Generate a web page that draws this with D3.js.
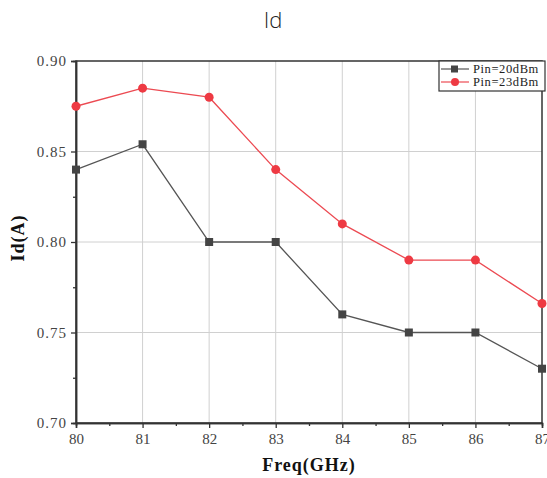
<!DOCTYPE html>
<html>
<head>
<meta charset="utf-8">
<script src="https://cdn.jsdelivr.net/npm/d3@7"></script>
<style>
  body { margin: 0; background: #fff; }
  svg { display: block; }
</style>
</head>
<body>
<svg id="chart" width="547" height="478"></svg>
<script>
const freqs = [80, 81, 82, 83, 84, 85, 86, 87];
const pin20 = [0.840, 0.854, 0.800, 0.800, 0.760, 0.750, 0.750, 0.730];
const pin23 = [0.875, 0.885, 0.880, 0.840, 0.810, 0.790, 0.790, 0.766];
const seriesNames = ["Pin=20dBm", "Pin=23dBm"];
const yTicks = [0.70, 0.75, 0.80, 0.85, 0.90];

const margin = { top: 61, right: 5, bottom: 55, left: 76 };
const width = 547 - margin.left - margin.right;
const height = 478 - margin.top - margin.bottom;

const svg = d3.select("#chart");
const serif = "'Liberation Serif', 'DejaVu Serif', serif";

svg.append("text")
  .attr("x", 273)
  .attr("y", 28)
  .attr("text-anchor", "middle")
  .style("font-family", "'Open Sans', 'DejaVu Sans', sans-serif")
  .style("font-weight", 300)
  .style("font-size", "22px")
  .attr("fill", "#222")
  .text("Id");

const g = svg.append("g").attr("transform", `translate(${margin.left},${margin.top})`);

const x = d3.scaleLinear().domain([80, 87]).range([0, width]);
const y = d3.scaleLinear().domain([0.70, 0.90]).range([height, 0]);

// grid
g.append("g")
  .selectAll("line")
  .data(freqs.slice(1, -1))
  .join("line")
  .attr("x1", d => x(d)).attr("x2", d => x(d))
  .attr("y1", 0).attr("y2", height)
  .attr("stroke", "#d0d0d0").attr("stroke-width", 1);
g.append("g")
  .selectAll("line")
  .data(yTicks.slice(1, -1))
  .join("line")
  .attr("x1", 0).attr("x2", width)
  .attr("y1", d => y(d)).attr("y2", d => y(d))
  .attr("stroke", "#d0d0d0").attr("stroke-width", 1);

// frame
g.append("rect")
  .attr("width", width).attr("height", height)
  .attr("fill", "none").attr("stroke", "#333").attr("stroke-width", 1.5);

// axes
const xAxis = g.append("g")
  .attr("transform", `translate(0,${height})`)
  .call(d3.axisBottom(x).tickValues(freqs).tickFormat(d3.format("d")).tickSize(5).tickPadding(5));
const xMinor = g.append("g")
  .attr("transform", `translate(0,${height})`)
  .call(d3.axisBottom(x).tickValues(freqs.slice(0, -1).map(d => d + 0.5)).tickFormat("").tickSize(3));
const yAxis = g.append("g")
  .call(d3.axisLeft(y).tickValues(yTicks).tickFormat(d3.format(".2f")).tickSize(5).tickPadding(4));
const yMinor = g.append("g")
  .call(d3.axisLeft(y).tickValues(yTicks.slice(0, -1).map(d => d + 0.025)).tickFormat("").tickSize(3));

[xAxis, xMinor, yAxis, yMinor].forEach(a => {
  a.select(".domain").attr("stroke", "#333").attr("stroke-width", 1.5);
  a.selectAll(".tick line").attr("stroke", "#333").attr("stroke-width", 1.3);
  a.selectAll("text")
    .style("font-family", serif)
    .style("font-size", "15px")
    .attr("fill", "#444");
});
yAxis.selectAll("text").style("letter-spacing", "1px");

// axis titles
svg.append("text")
  .attr("x", margin.left + width / 2)
  .attr("y", 471)
  .attr("text-anchor", "middle")
  .style("font-family", serif)
  .style("font-weight", "bold")
  .style("font-size", "18px")
  .style("letter-spacing", "1px")
  .attr("fill", "#111")
  .text("Freq(GHz)");
svg.append("text")
  .attr("transform", `translate(24,${margin.top + height / 2 - 4}) rotate(-90)`)
  .attr("text-anchor", "middle")
  .style("font-family", serif)
  .style("font-weight", "bold")
  .style("font-size", "18px")
  .style("letter-spacing", "1px")
  .attr("fill", "#111")
  .text("Id(A)");

// series
const line = d3.line().x((d, i) => x(freqs[i])).y(d => y(d));
const colors = ["#444444", "#ee3a43"];
const lineColors = ["#555555", "#ec4a52"];

g.append("path").datum(pin20)
  .attr("d", line).attr("fill", "none")
  .attr("stroke", lineColors[0]).attr("stroke-width", 1.3);
g.append("path").datum(pin23)
  .attr("d", line).attr("fill", "none")
  .attr("stroke", lineColors[1]).attr("stroke-width", 1.3);

g.append("g").selectAll("rect")
  .data(pin20)
  .join("rect")
  .attr("x", (d, i) => x(freqs[i]) - 4)
  .attr("y", d => y(d) - 4)
  .attr("width", 8).attr("height", 8)
  .attr("fill", colors[0]);
g.append("g").selectAll("circle")
  .data(pin23)
  .join("circle")
  .attr("cx", (d, i) => x(freqs[i]))
  .attr("cy", d => y(d))
  .attr("r", 4.5)
  .attr("fill", colors[1]);

// legend
const lg = svg.append("g").attr("transform", "translate(439,61)");
lg.append("rect")
  .attr("width", 106).attr("height", 30)
  .attr("fill", "#fff").attr("stroke", "#333").attr("stroke-width", 1.2);
seriesNames.forEach((name, i) => {
  const ly = 8 + i * 13;
  lg.append("line")
    .attr("x1", 2).attr("x2", 30).attr("y1", ly).attr("y2", ly)
    .attr("stroke", lineColors[i]).attr("stroke-width", 1.2);
  if (i === 0) {
    lg.append("rect").attr("x", 12).attr("y", ly - 3.5).attr("width", 7).attr("height", 7).attr("fill", colors[0]);
  } else {
    lg.append("circle").attr("cx", 16).attr("cy", ly).attr("r", 4).attr("fill", colors[1]);
  }
  lg.append("text")
    .attr("x", 34).attr("y", ly + 4)
    .style("font-family", serif)
    .style("font-size", "12.5px")
    .style("letter-spacing", "0.6px")
    .attr("fill", "#222")
    .text(name);
});
</script>
</body>
</html>
